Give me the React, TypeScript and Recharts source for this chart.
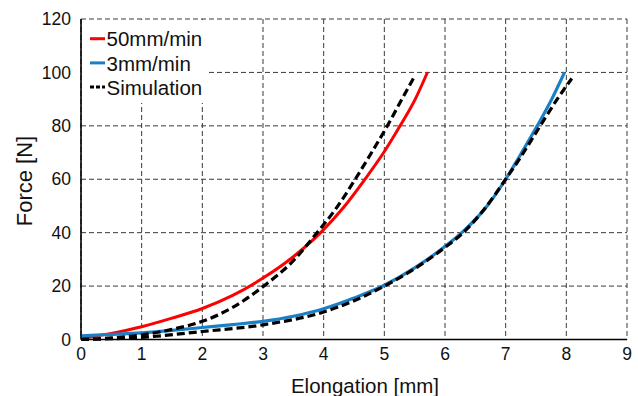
import React from "react";
import { LineChart, Line, XAxis, YAxis, CartesianGrid } from "recharts";

const redX = [0, 0.5, 1, 1.5, 2, 2.5, 3, 3.5, 3.95, 4.33, 4.68, 4.99, 5.26, 5.51, 5.71];
const redY = [0.3, 2.3, 4.8, 8, 11.6, 16.5, 23, 31, 40, 49.5, 60, 70, 80, 90, 100];

const blueX = [0, 0.5, 1, 1.5, 2, 2.5, 3, 3.5, 4, 4.5, 5, 5.5, 5.95, 6.3, 6.66, 7.0, 7.2, 7.52, 7.76, 7.97];
const blueY = [1.4, 1.9, 2.5, 3.4, 4.5, 5.6, 6.8, 8.7, 11.5, 15.5, 20.3, 26.8, 34, 40.5, 49, 60, 67.5, 80, 90, 100];

const simAX = [0, 0.5, 1, 1.5, 2, 2.5, 3, 3.5, 3.89, 4.19, 4.52, 4.79, 5.05, 5.29, 5.51];
const simAY = [0, 0.6, 1.7, 3.8, 6.8, 12, 19.8, 29.5, 40, 48.6, 60, 70, 80, 90, 99];

const simBX = [0, 1, 2, 3, 4, 4.5, 5, 5.5, 6, 6.3, 6.64, 7.0, 7.21, 7.57, 7.85, 8.09];
const simBY = [0, 0.8, 3, 5.5, 10.3, 14.5, 20, 26.5, 34.5, 40, 48.6, 60, 67, 80, 90, 97.7];

const xTicks = [0, 1, 2, 3, 4, 5, 6, 7, 8, 9];
const yTicks = [0, 20, 40, 60, 80, 100, 120];

const xLabel = "Elongation [mm]";
const yLabel = "Force [N]";

const legendItems = [
  { name: "50mm/min", color: "#ff0000", dash: "" },
  { name: "3mm/min", color: "#1a80c6", dash: "" },
  { name: "Simulation", color: "#000000", dash: "4 2" },
];

const zip = (xs: number[], ys: number[]) => xs.map((x, i) => ({ x, y: ys[i] }));

const FONT = "'Liberation Sans', Arial, sans-serif";

export default function App() {
  const tickStyle = { fontSize: 17.5, fill: "#111", fontFamily: FONT };
  return (
    <div style={{ position: "absolute", left: 0, top: 0, width: 638, height: 396, background: "#fff" }}>
      <LineChart width={638} height={396} margin={{ top: 19, right: 11, left: 0, bottom: 0 }}>
        <CartesianGrid stroke="#3a3a3a" strokeDasharray="5 3" strokeWidth={1} />
        <XAxis
          type="number"
          dataKey="x"
          domain={[0, 9]}
          ticks={xTicks}
          allowDuplicatedCategory={false}
          tick={tickStyle}
          tickLine={false}
          axisLine={{ stroke: "#000", strokeWidth: 1.6 }}
          height={56.5}
          tickMargin={2}
        />
        <XAxis xAxisId="top" orientation="top" type="number" domain={[0, 9]} ticks={xTicks} tick={false} tickLine={false} height={0} axisLine={{ stroke: "#000", strokeWidth: 1.6 }} />
        <YAxis
          type="number"
          domain={[0, 120]}
          ticks={yTicks}
          tick={tickStyle}
          tickLine={false}
          axisLine={{ stroke: "#000", strokeWidth: 1.6 }}
          width={81}
          tickMargin={4}
        />
        <YAxis yAxisId="right" orientation="right" type="number" domain={[0, 120]} tick={false} tickLine={false} width={0} axisLine={{ stroke: "#000", strokeWidth: 1.6 }} />
        <Line data={zip(redX, redY)} dataKey="y" type="monotone" stroke="#ff0000" strokeWidth={3} dot={false} isAnimationActive={false} />
        <Line data={zip(blueX, blueY)} dataKey="y" type="monotone" stroke="#1a80c6" strokeWidth={3.2} dot={false} isAnimationActive={false} />
        <Line data={zip(simAX, simAY)} dataKey="y" type="monotone" stroke="#000" strokeWidth={3.2} strokeDasharray="8 4" dot={false} isAnimationActive={false} />
        <Line data={zip(simBX, simBY)} dataKey="y" type="monotone" stroke="#000" strokeWidth={3.2} strokeDasharray="8 4" dot={false} isAnimationActive={false} />
      </LineChart>
      <svg width={638} height={396} style={{ position: "absolute", left: 0, top: 0, pointerEvents: "none" }}>
        <text x={365} y={393} textAnchor="middle" fontFamily={FONT} fontSize={20.5} fill="#111">
          {xLabel}
        </text>
        <text x={31.5} y={181} transform="rotate(-90 31.5 181)" textAnchor="middle" fontFamily={FONT} fontSize={22} fill="#111">
          {yLabel}
        </text>
        <rect x={82} y={20} width={126} height={83} fill="#fff" />
        {legendItems.map((it, i) => {
          const ly = 38.7 + i * 24.2;
          return (
            <g key={it.name}>
              <line x1={90} y1={ly} x2={105} y2={ly} stroke={it.color} strokeWidth={3} strokeDasharray={it.dash || undefined} />
              <text x={106.5} y={ly + 7.6} fontFamily={FONT} fontSize={20.5} fill="#111">
                {it.name}
              </text>
            </g>
          );
        })}
      </svg>
    </div>
  );
}
